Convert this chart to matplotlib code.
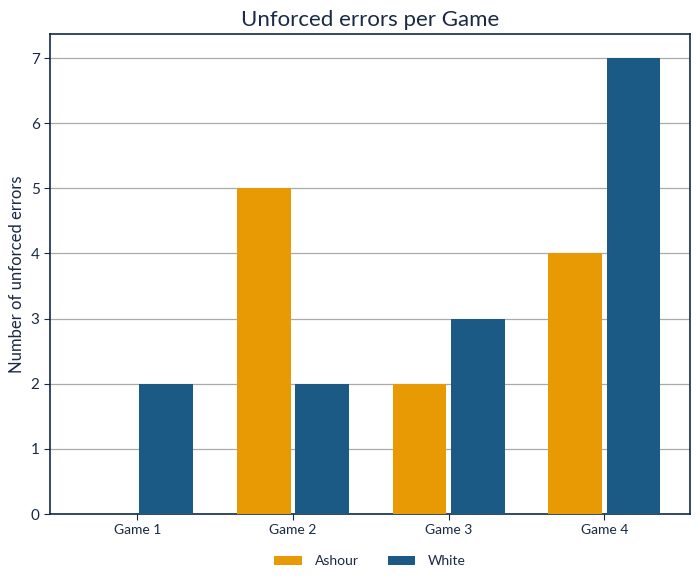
import numpy as np
import matplotlib
matplotlib.use("Agg")
import matplotlib.pyplot as plt

plt.rcParams['font.family'] = ['Lato', 'DejaVu Sans']

games = ["Game 1", "Game 2", "Game 3", "Game 4"]
ashour = [0, 5, 2, 4]
white = [2, 2, 3, 7]

navy = "#0f2b48"
text_col = "#1b2a44"
c_ashour = "#e89a04"
c_white = "#1c5a86"

fig = plt.figure(figsize=(7, 5.83), dpi=100)
ax = fig.add_axes([50 / 700, 1 - 514 / 583, 640 / 700, 480 / 583])

x = np.arange(len(games))
w = 0.345
off = 0.187
ax.bar(x - off, ashour, width=w, color=c_ashour, label="Ashour", zorder=3)
ax.bar(x + off, white, width=w, color=c_white, label="White", zorder=3)

ax.set_xlim(-0.56, 3.55)
ax.set_ylim(0, 7.37)
ax.set_xticks(x)
ax.set_xticklabels(games, fontsize=10, color=text_col)
ax.set_yticks(range(0, 8))
ax.tick_params(axis='y', labelsize=11, labelcolor=text_col, color=navy, length=4)
ax.tick_params(axis='x', color=navy, length=4)
ax.yaxis.grid(True, color="#aaaaaa", linewidth=0.9, zorder=0)
ax.set_axisbelow(True)
for s in ax.spines.values():
    s.set_color(navy)
    s.set_linewidth(1.2)

ax.set_title("Unforced errors per Game", fontsize=16, color=text_col, pad=6)
ax.set_ylabel("Number of unforced errors", fontsize=12, color=text_col)

ax.legend(loc="lower center", bbox_to_anchor=(0.5, -0.137), ncol=2, frameon=False,
          fontsize=10, handlelength=2.0, handleheight=0.7, handletextpad=0.9,
          columnspacing=2.1, labelcolor=text_col)

fig.savefig("out.png", dpi=100)
